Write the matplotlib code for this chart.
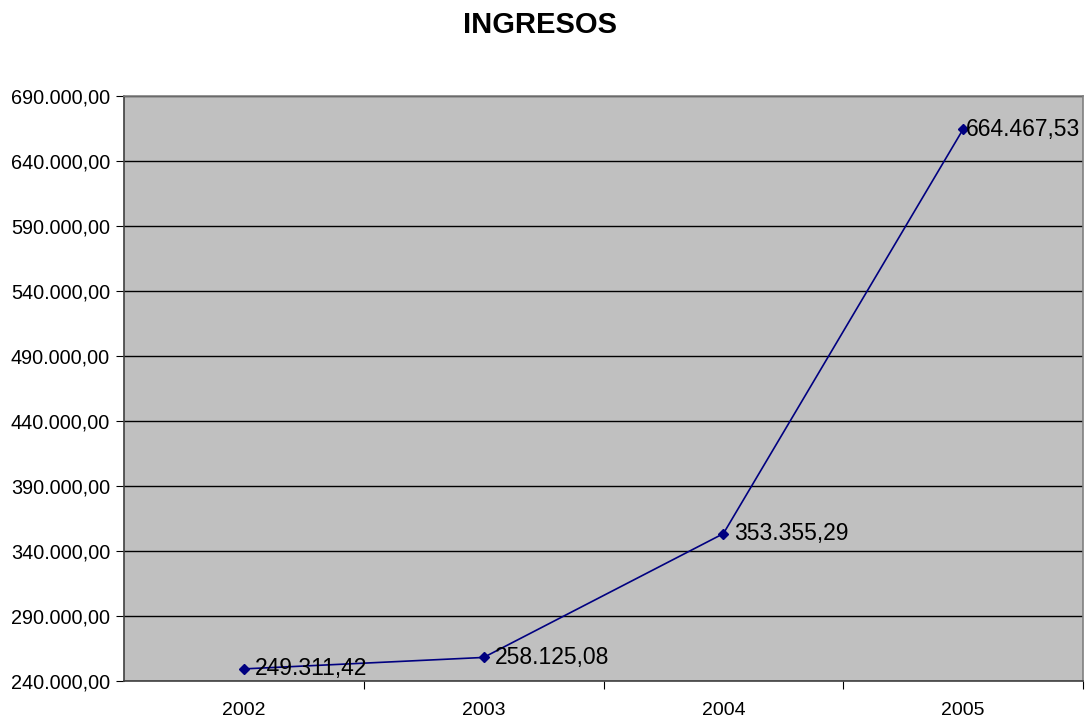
import matplotlib
matplotlib.use("Agg")
import matplotlib.pyplot as plt
from matplotlib.ticker import FixedLocator, NullFormatter

years = ["2002", "2003", "2004", "2005"]
ingresos = [249311.42, 258125.08, 353355.29, 664467.53]
labels = ["249.311,42", "258.125,08", "353.355,29", "664.467,53"]
yticks = list(range(240000, 690001, 50000))

def fmt(v):
    s = f"{v:,.2f}"
    return s.replace(",", "X").replace(".", ",").replace("X", ".")

plt.rcParams['font.family'] = ['Liberation Sans', 'DejaVu Sans']

fig = plt.figure(figsize=(10.89, 7.2), dpi=100)
ax = fig.add_axes([124/1089, 1-681/720, (1083-124)/1089, (681-96)/720])
ax.set_facecolor("#C0C0C0")

x = list(range(len(years)))
ax.plot(x, ingresos, color="#000080", lw=1.2, marker="D", ms=5, zorder=3)
for i, (xi, yi, lab) in enumerate(zip(x, ingresos, labels)):
    off = 8 if i < len(x) - 1 else 2
    ax.annotate(lab, (xi, yi), xytext=(off, 0), textcoords="offset points",
                ha="left", va="center", fontsize=16.5, color="black", zorder=4)

ax.set_xlim(-0.5, len(years) - 0.5)
ax.set_ylim(240000, 690000)
ax.set_yticks(yticks)
ax.set_yticklabels([fmt(v) for v in yticks], fontsize=14.3)
ax.yaxis.grid(True, color="black", lw=1)
ax.set_axisbelow(True)

ax.xaxis.set_major_locator(FixedLocator([i + 0.5 for i in range(len(years))]))
ax.xaxis.set_major_formatter(NullFormatter())
ax.xaxis.set_minor_locator(FixedLocator(x))
ax.set_xticklabels(years, minor=True, fontsize=14)
ax.tick_params(axis="x", which="minor", length=0, pad=15)
ax.tick_params(axis="x", which="major", length=6, direction="out", color="black")
ax.tick_params(axis="y", length=6, direction="out", color="black", pad=4)

ax.spines["left"].set_color("#404040")
ax.spines["bottom"].set_color("#404040")
ax.spines["top"].set_color("#808080")
ax.spines["right"].set_color("#808080")
for s in ax.spines.values():
    s.set_linewidth(1.2)

fig.text(540/1089, 1-25/720, "INGRESOS", ha="center", va="center",
         fontsize=21, fontweight="bold")

fig.savefig("out.png", dpi=100)
